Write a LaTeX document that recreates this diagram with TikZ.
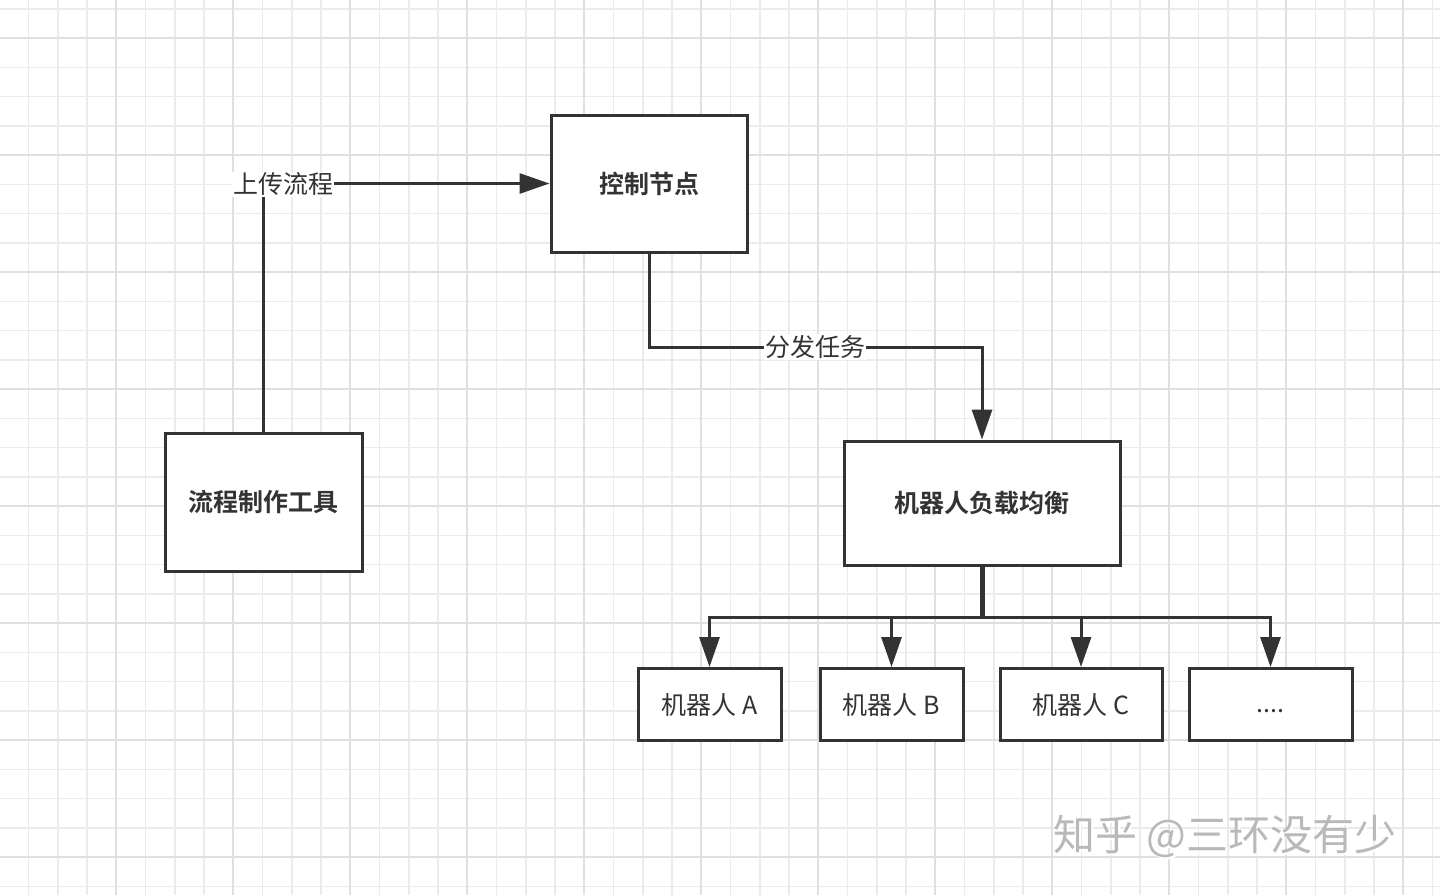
\documentclass[tikz,border=0pt]{standalone}
\usepackage{fontspec}
\setmainfont{Noto Sans CJK SC}[BoldFont={Noto Sans CJK SC Bold}]
\usetikzlibrary{arrows.meta}
\definecolor{ink}{HTML}{333333}
\definecolor{gridminor}{HTML}{EBEBEB}
\definecolor{gridmajor}{HTML}{E0E0E0}
\tikzset{
  box/.style={draw=ink, line width=3pt, fill=white, text=ink, font=\fontsize{25}{29}\selectfont\bfseries, inner sep=0pt},
  rbox/.style={draw=ink, line width=3pt, fill=white, text=ink, font=\fontsize{25}{29}\selectfont, inner sep=0pt, minimum height=72pt},
  conn/.style={draw=ink, line width=3pt},
  arr/.style={conn, -{Triangle[length=30pt,width=20pt]}},
  lbl/.style={fill=white, text=ink, font=\fontsize{25}{29}\selectfont, inner sep=1pt},
  wm/.style={text=gray!55, font=\fontsize{42}{46}\selectfont}
}
\begin{document}
\begin{tikzpicture}[x=1pt,y=-1pt]
\useasboundingbox (0,0) rectangle (1440,895);
\fill[white] (0,0) rectangle (1440,895);
% grid
\foreach \i in {0,...,49} {
  \draw[gridminor, line width=1.5pt] ({-0.75+29.25*\i},0) -- ({-0.75+29.25*\i},895);
}
\foreach \j in {0,...,30} {
  \draw[gridminor, line width=1.5pt] (0,{8.75+29.25*\j}) -- (1440,{8.75+29.25*\j});
}
\foreach \i in {0,...,12} {
  \draw[gridmajor, line width=2pt] ({-0.75+117*\i},0) -- ({-0.75+117*\i},895);
}
\foreach \j in {0,...,7} {
  \draw[gridmajor, line width=2pt] (0,{38+117*\j}) -- (1440,{38+117*\j});
}
% nodes
\node[box, minimum width=196pt, minimum height=137pt] (ctrl) at (649,183.5) {控制节点};
\node[box, minimum width=197pt, minimum height=138pt] (tool) at (263.5,502) {流程制作工具};
\node[box, minimum width=276pt, minimum height=124pt] (lb) at (982,503) {机器人负载均衡};
\node[rbox, minimum width=143pt] (rA) at (709.5,704.5) {机器人 A};
\node[rbox, minimum width=143pt] (rB) at (891.5,704.5) {机器人 B};
\node[rbox, minimum width=162pt] (rC) at (1081,704.5) {机器人 C};
\node[rbox, minimum width=163pt] (rD) at (1270.5,704.5) {\raisebox{-8pt}[0pt][0pt]{....}};
% connectors
\draw[arr] (tool.north) |- (ctrl.west);
\node[lbl] (l1) at (283,184) {上传流程};
\coordinate (c2) at (649,347);
\draw[arr] (ctrl.south) -- (c2) -| (lb.north);
\node[lbl] (l2) at (815,347) {分发任务};
\coordinate (bus) at (982,617);
\draw[conn, line width=5pt] (lb.south) -- (bus);
\draw[arr] (bus) -| (rA.north);
\draw[arr] (bus) -| (rB.north);
\draw[arr] (bus) -| (rC.north);
\draw[arr] (bus) -| (rD.north);
% watermark
\node[wm, text=white] (wms) at (1227,838) {知乎 @三环没有少};
\node[wm] (wmark) at (1225,836) {知乎 @三环没有少};
\end{tikzpicture}
\end{document}
